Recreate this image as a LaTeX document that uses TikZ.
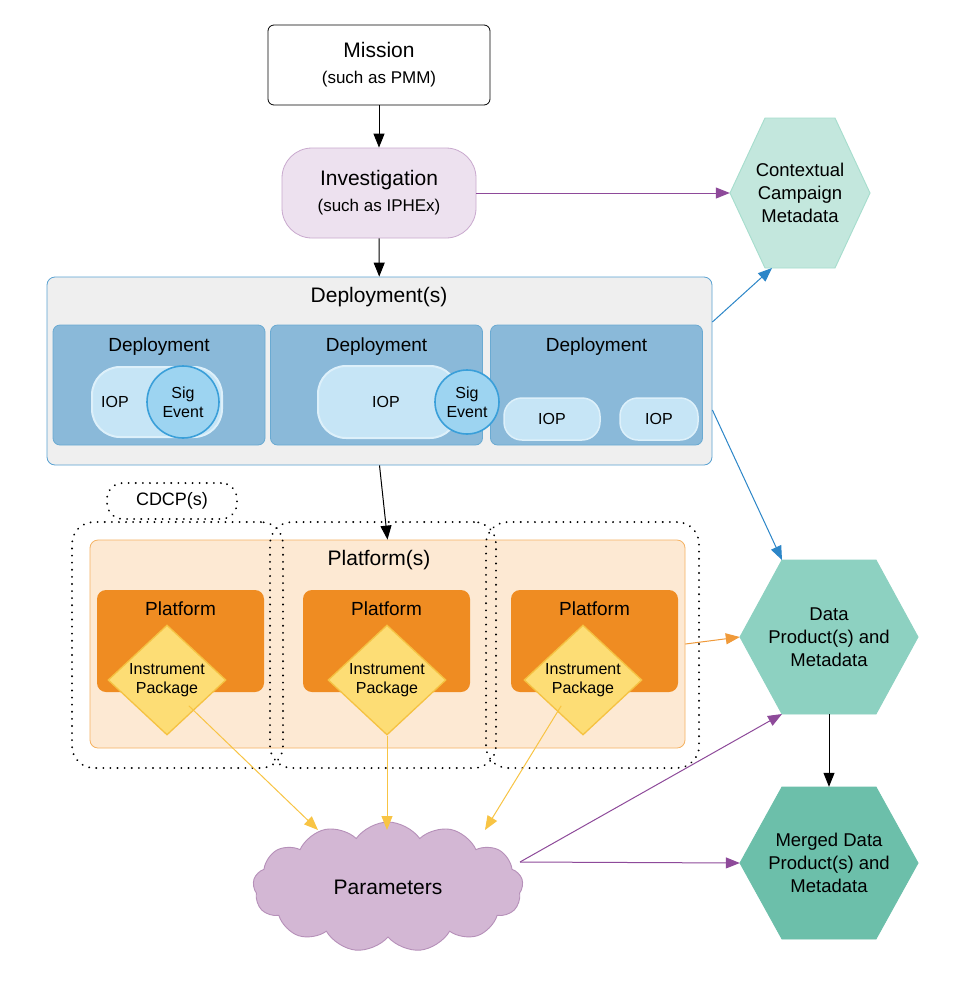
\documentclass[tikz,border=0pt]{standalone}
\usepackage{fontspec}
\setmainfont{Liberation Sans}
\usetikzlibrary{shapes.geometric,shapes.symbols,arrows.meta}
\definecolor{invF}{HTML}{EDE1EF}\definecolor{invD}{HTML}{C9A9CE}
\definecolor{hexA}{HTML}{C3E7DD}\definecolor{hexAD}{HTML}{A6DDCD}
\definecolor{hexB}{HTML}{8DD1C1}\definecolor{hexC}{HTML}{6CBFAA}
\definecolor{depF}{HTML}{EFEFEF}\definecolor{depD}{HTML}{5AA2D2}
\definecolor{inF}{HTML}{8AB9D9}\definecolor{inD}{HTML}{6AAAD2}
\definecolor{iopF}{HTML}{C6E5F6}\definecolor{iopD}{HTML}{DDF0FA}
\definecolor{sigF}{HTML}{9DD4F1}\definecolor{sigD}{HTML}{3A9FD9}
\definecolor{plsF}{HTML}{FDE9D3}\definecolor{plsD}{HTML}{F5B262}
\definecolor{plF}{HTML}{EF8C22}
\definecolor{diaF}{HTML}{FDDD75}\definecolor{diaD}{HTML}{F5C242}
\definecolor{clF}{HTML}{D3B7D4}\definecolor{clD}{HTML}{B690B9}
\definecolor{purp}{HTML}{8E4A9A}\definecolor{blu}{HTML}{2C86C8}
\definecolor{org}{HTML}{F09A3A}\definecolor{yel}{HTML}{F8C444}
\tikzset{
 box/.style={draw,rounded corners=8pt,line width=0.8pt},
 arr/.style={-{Triangle[length=14pt,width=11pt]},line width=1pt},
 dots/.style={draw,line width=2pt,dash pattern=on 0.1pt off 7pt,line cap=round,rounded corners=22pt},
 hex/.style={line width=0.9pt},
 lbl/.style={font=\fontsize{18.5}{23}\selectfont,align=center},
 sm/.style={font=\fontsize{16}{19}\selectfont,align=center},
}
\begin{document}
\begin{tikzpicture}[x=1pt,y=-1pt]
\useasboundingbox[fill=white] (0,0) rectangle (955,986);
% Mission
\node[box,draw=black,fill=white,minimum width=222pt,minimum height=80pt,align=center,rounded corners=6pt,font=\fontsize{21}{26}\selectfont] (mis) at (379,65)
 {Mission\\{\fontsize{17}{20}\selectfont (such as PMM)}};
\node[box,draw=invD,fill=invF,minimum width=194pt,minimum height=90pt,align=center,rounded corners=30pt,font=\fontsize{21}{26}\selectfont] (inv) at (379,193)
 {Investigation\\{\fontsize{17}{20}\selectfont (such as IPHEx)}};
% hexagons
\fill[hexA,draw=hexAD,hex] (730,193)--(765,118)--(835,118)--(870,193)--(835,268)--(765,268)--cycle;
\node[lbl,minimum width=140pt,minimum height=150pt] (ctx) at (800,193) {Contextual\\Campaign\\Metadata};
\fill[hexB,draw=hexB,hex] (740,637)--(782,560)--(876,560)--(918,637)--(876,714)--(782,714)--cycle;
\node[lbl,minimum width=178pt,minimum height=154pt] (dat) at (829,637) {Data\\Product(s) and\\Metadata};
\fill[hexC,draw=hexC,hex] (740,863)--(782,787)--(876,787)--(918,863)--(876,939)--(782,939)--cycle;
\node[lbl,minimum width=178pt,minimum height=152pt] (mer) at (829,863) {Merged Data\\Product(s) and\\Metadata};
\coordinate (ctxin) at (772,268);
\coordinate (datin) at (782,560);
\coordinate (datsw) at (782,714);
% Deployments
\node[box,draw=depD,fill=depF,minimum width=665pt,minimum height=188pt] (deps) at (379.5,371) {};
\node[font=\fontsize{21}{25}\selectfont] (depst) at (379,297) {Deployment(s)};
\foreach \n/\x in {d1/159,d2/376.5,d3/596.5}{
 \node[box,draw=inD,fill=inF,minimum width=212pt,minimum height=120pt,rounded corners=7pt] (\n) at (\x,385) {};
 \node[font=\fontsize{19}{22}\selectfont] (\n t) at (\x,347) {Deployment};}
\node[box,draw=iopD,line width=2pt,fill=iopF,minimum width=130pt,minimum height=70pt,rounded corners=28pt] (iop1) at (157,402) {};
\node[sm] (iop1t) at (115,402) {IOP};
\node[circle,draw=sigD,line width=1.6pt,fill=sigF,minimum size=72pt,inner sep=0pt,sm] (sig1) at (183,402) {Sig\\Event};
\node[box,draw=iopD,line width=2pt,fill=iopF,minimum width=140pt,minimum height=72pt,rounded corners=28pt] (iop2) at (388,402) {};
\node[sm] (iop2t) at (386,402) {IOP};
\node[circle,draw=sigD,line width=1.6pt,fill=sigF,minimum size=64pt,inner sep=0pt,sm] (sig2) at (467,402) {Sig\\Event};
\node[box,draw=iopD,line width=1.5pt,fill=iopF,minimum width=96pt,minimum height=42pt,rounded corners=18pt,sm] (iop3) at (552,419) {IOP};
\node[box,draw=iopD,line width=1.5pt,fill=iopF,minimum width=78pt,minimum height=42pt,rounded corners=18pt,sm] (iop4) at (659,419) {IOP};
% Platforms
\node[box,draw=plsD,fill=plsF,minimum width=595pt,minimum height=208pt] (pls) at (387.5,644) {};
\node[font=\fontsize{21}{25}\selectfont] (plst) at (379,560) {Platform(s)};
\foreach \n/\x/\c in {p1/180.5/167,p2/386.5/387,p3/594.5/583}{
 \node[fill=plF,rounded corners=9pt,minimum width=167pt,minimum height=102pt] (\n) at (\x,641) {};
 \node[font=\fontsize{19}{22}\selectfont] (\n t) at (\x,609) {Platform};
 \node[diamond,draw=diaD,fill=diaF,line width=1.3pt,minimum width=118pt,minimum height=110pt,inner sep=0pt,sm] (\n i) at (\c,680) {Instrument\\Package};}
% dotted groups
\node[dots,minimum width=211pt,minimum height=246pt] (g1) at (177.5,645) {};
\node[dots,minimum width=226pt,minimum height=246pt] (g2) at (383,645) {};
\node[dots,minimum width=213pt,minimum height=246pt] (g3) at (592.5,645) {};
\node[dots,rounded corners=16pt,minimum width=130pt,minimum height=36pt,font=\fontsize{18}{21}\selectfont] (cdcp) at (172,501) {CDCP(s)};
% cloud
\node[cloud,cloud puffs=13,cloud puff arc=110,aspect=2.1,draw=clD,fill=clF,line width=0.9pt,minimum width=270pt,minimum height=130pt,font=\fontsize{21}{25}\selectfont] (par) at (388,887) {Parameters};
\coordinate (park) at (520,862);
\coordinate (parw) at (318,830);
\coordinate (parn) at (387,830);
\coordinate (pare) at (485,830);
% connectors
\draw[arr] (mis) -- (inv);
\draw[arr] (inv) -- (deps);
\draw[arr] (deps.south) -- (pls.north);
\draw[arr,purp] (inv.east) -- (ctx.west);
\draw[arr,blu] (deps.east |- 0,322) -- (ctxin);
\draw[arr,blu] (deps.east |- 0,410) -- (datin);
\draw[arr,org] (pls.east) -- (dat.west);
\draw[arr] (dat.south) -- (mer.north);
\draw[arr,yel] (p1i.south east) ++(-8,-2) -- (parw);
\draw[arr,yel] (p2i.south) -- (parn);
\draw[arr,yel] (p3i.south west) ++(8,-2) -- (pare);
\draw[arr,purp] (park) -- (datsw);
\draw[arr,purp] (park) -- (mer.west);
\end{tikzpicture}
\end{document}
